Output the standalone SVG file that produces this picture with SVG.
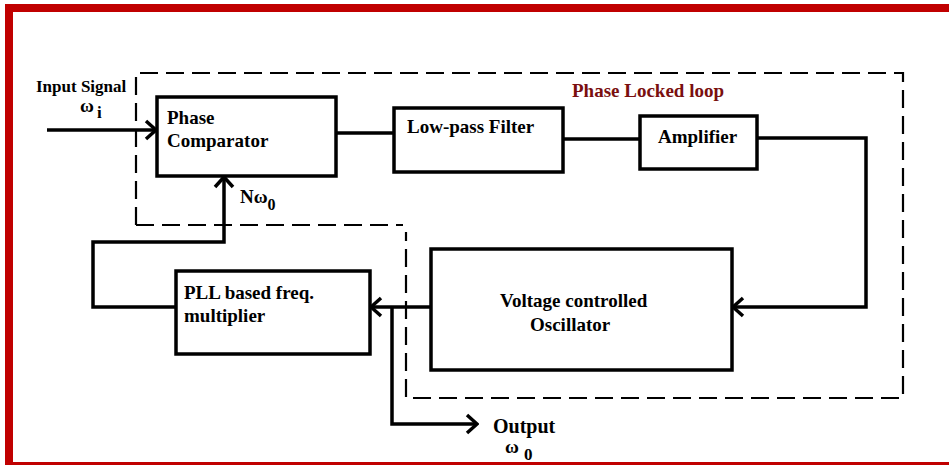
<svg xmlns="http://www.w3.org/2000/svg" width="949" height="465" viewBox="0 0 949 465">
<defs>
<style>
.box{fill:#fff;stroke:#000;stroke-width:3.5}
.wire{fill:none;stroke:#000;stroke-width:3.5}
.dash{fill:none;stroke:#000;stroke-width:2.2;stroke-dasharray:18 8}
.t{font-family:"Liberation Serif","Times New Roman",serif;font-weight:bold;font-size:19px;fill:#000}
.s{font-size:17px}
.title{fill:#7a0f0f}
</style>
<marker id="arr" viewBox="0 0 14 22" refX="12" refY="11" markerWidth="14" markerHeight="22" markerUnits="userSpaceOnUse" orient="auto">
<path d="M2,2 L12,11 L2,20" fill="none" stroke="#000" stroke-width="3.5"/>
</marker>
</defs>
<rect width="949" height="465" fill="#fff"/>
<g id="pll-boundary">
<path class="dash" d="M136,225 V73 H903 V398 H406 V232"/>
<path class="dash" d="M136,225 H403"/>
</g>
<g id="connectors">
<path class="wire" d="M47,130 H156" marker-end="url(#arr)"/>
<path class="wire" d="M336,133 H394"/>
<path class="wire" d="M563,139 H640"/>
<path class="wire" d="M757,138 H866 V307 H733" marker-end="url(#arr)"/>
<path class="wire" d="M431,307 H371" marker-end="url(#arr)"/>
<path class="wire" d="M392,307 V424 H477" marker-end="url(#arr)"/>
<path class="wire" d="M176,307 H93 V242 H224 V177" marker-end="url(#arr)"/>
</g>
<g id="input-label">
<text class="t s" x="36" y="92">Input Signal</text>
<text class="t" x="80" y="112">ω</text>
<text class="t s" x="97" y="118">i</text>
</g>
<g id="phase-comparator">
<rect class="box" x="157" y="97" width="179" height="79"/>
<text class="t" x="167" y="124">Phase</text>
<text class="t" x="167" y="147">Comparator</text>
</g>
<g id="low-pass-filter">
<rect class="box" x="394" y="108" width="169" height="64"/>
<text class="t" x="407" y="133">Low-pass Filter</text>
</g>
<g id="amplifier">
<rect class="box" x="640" y="116" width="117" height="53"/>
<text class="t" x="658" y="143">Amplifier</text>
</g>
<g id="title">
<text class="t title" x="572" y="97">Phase Locked loop</text>
</g>
<g id="vco">
<rect class="box" x="431" y="249" width="301" height="121"/>
<text class="t" x="500" y="307">Voltage controlled</text>
<text class="t" x="530" y="331">Oscillator</text>
</g>
<g id="freq-multiplier">
<rect class="box" x="176" y="271" width="194" height="83"/>
<text class="t" x="184" y="299">PLL based freq.</text>
<text class="t" x="184" y="322">multiplier</text>
</g>
<g id="feedback-label">
<text class="t" x="240" y="203">Nω<tspan font-size="16" dy="7">0</tspan></text>
</g>
<g id="output-label">
<text class="t" style="font-size:20px" x="493" y="433">Output</text>
<text class="t" x="505" y="453">ω</text>
<text class="t s" x="524" y="460">0</text>
</g>
<rect x="9" y="8" width="960" height="458" fill="none" stroke="#c00000" stroke-width="8"/>
</svg>
